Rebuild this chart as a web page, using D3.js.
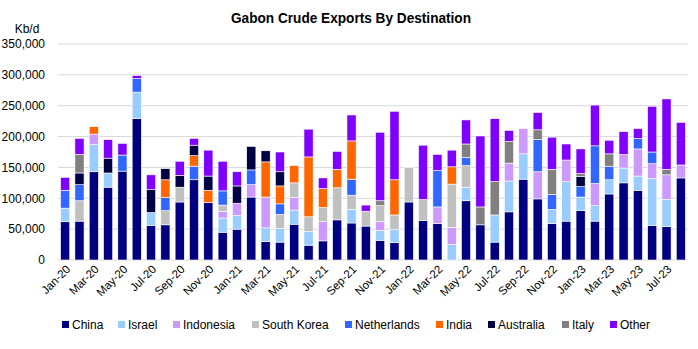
<!DOCTYPE html>
<html><head><meta charset="utf-8">
<script src="https://cdn.jsdelivr.net/npm/d3@7"></script>
<style>html,body{margin:0;padding:0;background:#fff;}svg{display:block;}</style>
</head><body><svg id="c" width="698" height="349"></svg>
<script>
const months = ["Jan-20","Feb-20","Mar-20","Apr-20","May-20","Jun-20","Jul-20","Aug-20","Sep-20","Oct-20","Nov-20","Dec-20",
"Jan-21","Feb-21","Mar-21","Apr-21","May-21","Jun-21","Jul-21","Aug-21","Sep-21","Oct-21","Nov-21","Dec-21",
"Jan-22","Feb-22","Mar-22","Apr-22","May-22","Jun-22","Jul-22","Aug-22","Sep-22","Oct-22","Nov-22","Dec-22",
"Jan-23","Feb-23","Mar-23","Apr-23","May-23","Jun-23","Jul-23","Aug-23"];
const seriesNames = ["China","Israel","Indonesia","South Korea","Netherlands","India","Australia","Italy","Other"];
const seriesColors = ["#000080","#99ccff","#cc99ff","#c0c0c0","#3366ff","#ff6600","#000044","#808080","#8000ff"];
// values in thousand b/d
const china      = [62,63,143,118,144,229,56,57,94,130,93,45, 50,102,30,29,58,24,31,65,60,55,32,28, 94,64,59,0,96,57,29,78,131,99,59,63, 80,63,107,125,113,56,54,133];
const israel     = [22,0,44,23,0,43,21,0,0,0,0,23, 22,0,22,22,23,22,0,0,22,0,16,21, 0,0,0,25,22,0,44,50,41,0,23,64, 22,25,23,24,23,76,44,0];
const indonesia  = [0,0,17,0,0,0,0,0,0,0,0,11, 20,20,50,0,20,0,31,0,0,0,14,0, 0,0,27,28,0,0,0,29,41,44,0,35, 0,36,0,22,44,24,40,21];
const southKorea = [0,33,0,0,0,0,0,23,24,0,0,10, 0,0,0,23,24,24,23,52,23,24,26,24, 56,34,0,70,35,0,0,0,0,0,0,0, 0,0,0,0,0,0,0,0];
const netherlands= [29,26,0,0,26,22,0,21,0,22,0,23, 0,24,0,17,0,0,0,0,26,0,0,0, 0,0,59,0,13,0,0,0,0,52,24,0, 17,61,22,0,17,19,0,0];
const india      = [0,0,12,0,0,0,0,29,0,17,20,0, 0,0,57,29,28,97,31,30,62,0,0,57, 0,0,0,28,0,0,0,0,0,0,0,0, 0,0,0,0,0,0,0,0];
const australia  = [0,19,0,24,0,0,37,18,19,17,23,0, 28,38,18,23,0,0,0,0,0,0,0,0, 0,0,0,0,0,0,0,0,0,0,0,0, 16,0,0,0,0,0,0,0];
const italy      = [0,30,0,0,0,0,0,0,0,0,0,0, 0,0,0,0,0,0,0,0,0,0,8,0, 0,0,0,0,22,29,54,35,0,16,41,0, 5,0,20,0,0,0,9,0];
const other      = [21,26,0,30,19,5,24,0,23,11,42,48, 23,0,0,32,0,45,17,29,42,10,111,111, 0,88,26,27,39,115,102,18,0,28,52,26, 40,66,22,37,16,74,114,69];
const yTicks = [0,50000,100000,150000,200000,250000,300000,350000];
const seriesValues = [china,israel,indonesia,southKorea,netherlands,india,australia,italy,other];

const FONT = "'Liberation Sans',Arial,sans-serif";
const data = months.map((m,i)=>{const o={month:m};seriesNames.forEach((s,j)=>o[s]=seriesValues[j][i]*1000);return o;});
const svg = d3.select("#c");
const M = {l:58, r:10, t:44, b:89};
const W = 698, H = 349;
const x = d3.scaleBand().domain(months).range([M.l, W - M.r]).paddingInner(0.36).paddingOuter(0.18);
const y = d3.scaleLinear().domain([0,350000]).range([H - M.b, M.t]);

// grid
svg.append("g").selectAll("line").data(yTicks).join("line")
  .attr("x1", M.l).attr("x2", W - M.r).attr("y1", d=>y(d)).attr("y2", d=>y(d))
  .attr("stroke","#d9d9d9").attr("stroke-width",1);

// y axis labels
const ya = svg.append("g").attr("transform",`translate(${M.l-10},0)`)
  .call(d3.axisLeft(y).tickValues(yTicks).tickSize(0).tickFormat(d3.format(",")));
ya.select(".domain").remove();
ya.selectAll("text").attr("font-family",FONT).attr("font-size",12).attr("fill","#000").attr("dx",0);

svg.append("text").attr("x",27).attr("y",33).attr("text-anchor","middle")
  .attr("font-family",FONT).attr("font-size",12).text("Kb/d");

// bars
const stack = d3.stack().keys(seriesNames)(data);
svg.append("g").selectAll("g").data(stack).join("g")
  .attr("fill",(d,i)=>seriesColors[i])
  .selectAll("rect").data(d=>d).join("rect")
  .attr("x",d=>x(d.data.month)).attr("width",x.bandwidth())
  .attr("y",d=>y(d[1])).attr("height",d=>Math.max(0,y(d[0])-y(d[1])))
  .attr("stroke",d=>(d[1]-d[0])>0?"#fff":"none").attr("stroke-width",0.6);

// x labels
const xa = svg.append("g").attr("transform",`translate(0,${H-M.b})`)
  .call(d3.axisBottom(x).tickValues(months.filter((m,i)=>i%2===0)).tickSize(0));
xa.select(".domain").remove();
xa.selectAll("text").attr("font-family",FONT).attr("font-size",11.5).attr("fill","#000")
  .attr("text-anchor","end").attr("transform","translate(3,7) rotate(-45)").attr("dy","0.35em").attr("dx",0).attr("y",0);

// title
svg.append("text").attr("x",351).attr("y",23).attr("text-anchor","middle")
  .attr("font-family",FONT).attr("font-weight","bold").attr("font-size",15)
  .attr("textLength",240).attr("lengthAdjust","spacingAndGlyphs").text("Gabon Crude Exports By Destination");

// legend
const lg = svg.append("g").attr("transform","translate(0,325)");
const legendX = [62,118,173,252,345,436,488,562,610];
seriesNames.forEach((s,i)=>{
  const g = lg.append("g").attr("transform",`translate(${legendX[i]},0)`);
  g.append("rect").attr("x",0).attr("y",-4).attr("width",7).attr("height",7).attr("fill",seriesColors[i]);
  g.append("text").attr("x",10).attr("y",0).attr("dy","0.35em").attr("font-family",FONT).attr("font-size",12).text(s);
});
</script></body></html>
